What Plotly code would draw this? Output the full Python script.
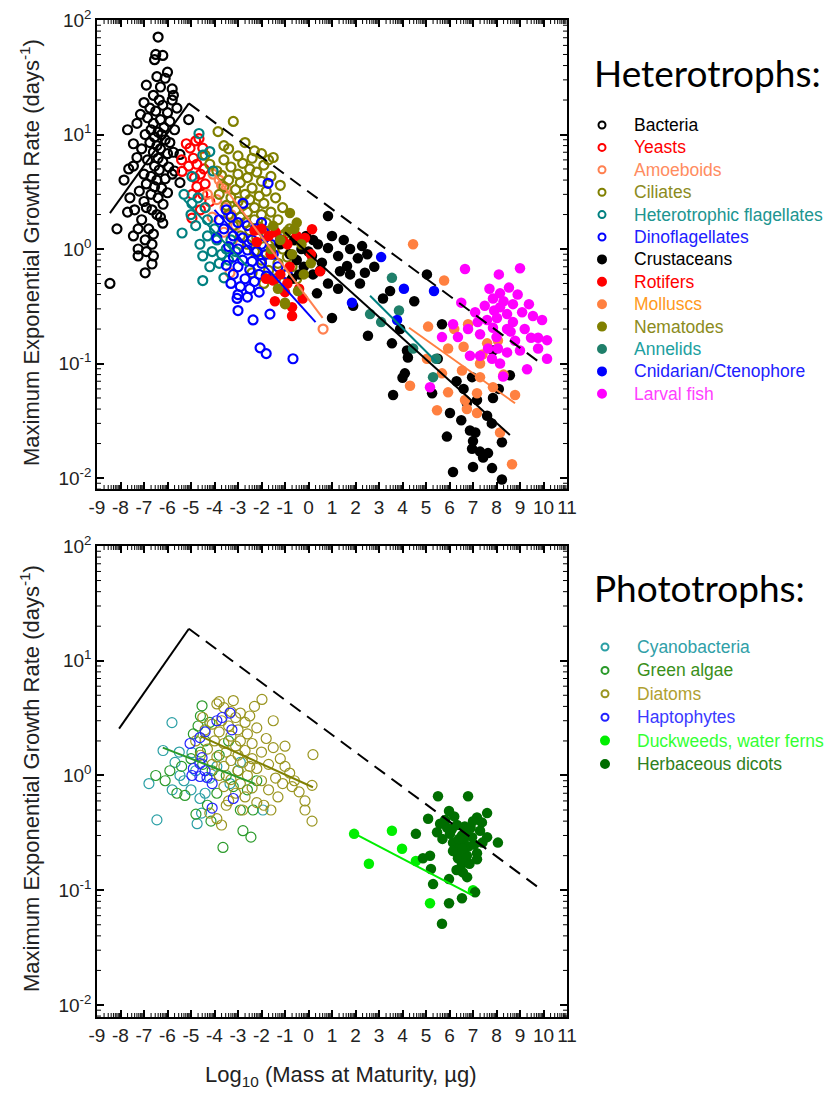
import numpy as np
import plotly.graph_objects as go

W, H = 833, 1093

# ---------------- DATA ----------------
# Heterotrophs
bacteria_x = [-6.4,-6.5,-6.2,-6.55,-6.0,-6.45,-6.9,-6.1,-5.8,-6.3,-5.75,-6.6,-6.35,-5.8,-7.0,-6.2,-6.75,-5.6,-6.5,-6.0,-7.15,-6.85,-5.1,-6.3,-5.9,-7.3,-6.6,-7.7,-6.15,-6.7,-5.7,-6.4,-6.95,-6.25,-6.55,-7.45,-6.1,-5.9,-6.75,-6.45,-7.1,-6.3,-5.75,-6.6,-6.0,-5.47,-7.3,-6.4,-6.85,-6.2,-7.45,-7.65,-6.55,-5.95,-6.35,-5.7,-5.8,-7.0,-6.7,-6.45,-6.1,-7.85,-5.47,-6.9,-6.55,-6.25,-7.2,-6.0,-6.7,-6.4,-7.6,-6.19,-7.0,-6.66,-6.9,-7.4,-7.7,-6.45,-6.3,-7.1,-6.2,-8.15,-7.25,-6.8,-6.6,-7.45,-6.95,-6.66,-7.25,-6.9,-7.25,-6.6,-6.66,-6.95,-8.45]
bacteria_y = [71,50,49,45,35,32,27,31,25,26,22,22,20,20,19,18,17,17,16,15.5,15,14,13.5,13.5,13,12.5,12.5,11,11.5,11,11,10.5,10,10,9.5,8.3,9,8.5,8.5,8,7.5,7.5,7,7,6.8,6.7,6.3,6.2,6,5.8,5.3,5.0,5.3,5.2,4.9,4.8,4.5,4.5,4.3,4.0,4.1,4.0,3.8,3.7,3.5,3.4,3.2,3.1,3.0,2.8,2.8,2.46,2.6,2.2,2.3,2.2,2.1,2.0,1.9,1.8,1.68,1.5,1.5,1.5,1.35,1.3,1.2,1.1,1.0,0.95,0.87,0.87,0.74,0.62,0.5]

yeasts_x = [-4.66,-5.04,-4.5,-4.9,-5.4,-4.75,-5.38,-4.6,-4.4,-4.75,-4.95,-4.5,-4.2,-4.96,-4.6,-5.2,-4.8,-4.45,-4.85,-5.1]
yeasts_y = [9.2,7.6,7.6,6.2,6.0,5.5,4.76,4.5,3.7,3.5,3.0,3.0,2.6,1.86,2.2,8.3,8.8,5.0,4.2,5.3]

amoeboids_x = [-4.06,-3.8,-3.5,-3.7,-4.3,-3.9,-3.55,-4.1,-3.34,-3.6,-3.1,0.62,-2.9,-4.4,-3.3]
amoeboids_y = [4.5,4.0,3.4,3.6,3.0,2.7,2.3,1.9,0.62,1.4,1.6,0.2,1.1,2.3,2.0]

ciliates_x = [-3.2,-3.85,-2.7,-3.4,-2.0,-1.5,-3.0,-2.4,-3.6,-2.8,-1.9,-3.3,-2.5,-4.2,-2.2,-3.0,-3.7,-1.6,-2.6,-3.4,-2.0,-2.9,-1.2,-3.6,-2.4,-3.1,-1.8,-2.7,-3.8,-2.1,-3.3,-1.4,-2.5,-3.0,-1.9,-2.8,-3.5,-2.3,-1.1,-3.1,-2.6,-1.6,-2.0,-3.4,-2.9,-2.3,-1.3,-1.8,-2.7,-3.2,-2.1,-1.5,-0.8,-2.5,-1.0,-1.8,-2.9,-2.2,-1.4,-0.6,-2.6,-1.9,-1.1,-2.3,-1.6,-0.9,-2.0,-1.3,-0.7,-1.7,-1.0,-2.4,-1.4,-0.5,-1.9,-3.9,-4.4,-3.6,-2.3,-1.7]
ciliates_y = [13,10.6,8.5,7.5,6.8,6.3,6.5,6.2,6.0,5.6,5.4,5.2,5.0,5.5,4.7,4.5,4.4,4.3,4.2,4.0,3.9,3.8,3.6,3.5,3.4,3.3,3.2,3.0,3.0,2.9,2.8,2.8,2.7,2.6,2.5,2.4,2.4,2.3,2.3,2.2,2.1,2.1,2.0,2.0,1.9,1.8,1.8,1.7,1.7,1.6,1.55,1.5,1.5,1.45,1.35,1.3,1.3,1.25,1.2,1.2,1.1,1.05,1.0,0.95,0.9,0.85,0.8,0.75,0.7,0.65,0.6,0.62,0.55,0.55,0.5,4.8,6.6,8.0,7.2,6.0]

hflag_x = [-4.66,-4.2,-4.5,-4.96,-4.06,-5.38,-4.96,-4.5,-4.5,-3.6,-4.62,-4.3,-3.9,-4.1,-3.7,-4.8,-4.3,-3.5,-3.3,-4.0,-3.8,-5.0,-4.4,-3.4,-4.2,-3.1,-5.3,-4.7]
hflag_y = [10.2,7.1,6.6,4.3,4.8,1.38,2.5,0.87,0.53,0.56,1.1,1.3,1.2,0.95,0.9,1.6,1.8,1.0,1.2,1.5,0.75,2.0,2.3,0.8,0.7,0.95,3.0,2.8]

dino_x = [-1.72,-2.79,-3.5,-3.3,-3.0,-2.6,-2.2,-1.9,-3.6,-3.2,-2.8,-2.4,-2.0,-1.6,-3.4,-3.0,-2.6,-2.2,-1.8,-3.2,-2.8,-2.4,-2.0,-3.5,-3.0,-2.5,-2.1,-1.8,-3.2,-2.7,-2.3,-3.3,-2.9,-2.5,-2.1,-3.0,-2.6,-3.04,-3.0,-2.36,-1.64,-2.06,-1.8,-0.66,-1.5,-1.3,-1.2,-3.8,-3.9,-2.0,-0.9]
dino_y = [3.75,2.5,2.2,1.9,1.7,1.6,1.5,1.4,1.5,1.3,1.25,1.2,1.1,1.1,1.05,1.0,0.98,0.95,0.9,0.85,0.8,0.78,0.75,0.72,0.7,0.66,0.6,0.58,0.6,0.55,0.52,0.5,0.47,0.45,0.42,0.4,0.38,0.37,0.29,0.24,0.27,0.137,0.122,0.11,0.9,0.7,1.2,1.8,1.25,1.7,0.6]

crust_x = [0.83,2.28,1.77,2.1,0.83,1.26,1.64,1.34,1.77,2.19,0.83,0.36,1.26,0.19,0.57,0.15,1.0,1.9,3.17,3.47,2.53,3.55,4.19,4.23,4.1,4.0,3.6,5.04,5.68,5.26,6.02,6.96,6.74,7.17,7.6,6.87,7.1,7.0,5.89,6.96,7.3,7.64,7.43,6.15,7.0,7.81,8.23,8.23,8.57,7.85,7.85,-0.6,-0.3,-0.1,-0.5,-0.2,0.4,0.0,-0.8,0.5,-0.4,0.2,1.0,1.5,2.5,2.8,-1.2,-0.7,2.4,4.5,3.9,5.5,6.3,6.6,7.8,8.1,6.5]
crust_y = [1.94,1.06,1.0,0.83,1.02,0.87,0.71,0.64,0.6,0.5,0.5,0.41,0.45,0.6,0.76,0.87,0.25,0.32,0.37,0.43,0.175,0.15,0.13,0.113,0.082,0.075,0.053,0.6,0.22,0.055,0.037,0.076,0.045,0.048,0.035,0.026,0.025,0.021,0.023,0.018,0.017,0.0165,0.0151,0.0113,0.0125,0.0122,0.0097,0.0205,0.079,0.05,0.13,1.2,1.0,1.3,0.8,0.7,1.1,0.95,0.9,0.65,0.6,1.2,1.3,1.2,0.9,0.7,1.1,0.55,0.62,0.35,0.2,0.11,0.07,0.06,0.03,0.06,0.032]

rotifers_x = [0.15,-0.15,-0.7,-0.7,0.49,-1.5,-1.43,-2.3,-2.0,-1.7,-1.4,-1.1,-0.9,-0.5,-1.6,-1.2,-0.9,-0.4,-1.8,-1.0,0.1,-2.2,-0.25,-0.8]
rotifers_y = [1.49,1.25,0.31,0.26,0.64,0.53,0.35,1.45,1.5,1.3,1.4,1.2,1.1,1.3,0.9,0.6,0.5,0.45,0.55,0.42,0.9,1.15,0.37,0.7]

molluscs_x = [4.45,5.77,5.09,6.79,5.94,5.04,5.68,6.53,7.3,7.3,4.32,5.94,6.66,6.74,7.17,7.17,7.85,5.47,8.15,8.79,8.66,8.06,7.6,6.6,7.4,6.2,8.3]
molluscs_y = [1.1,0.53,0.21,0.22,0.135,0.11,0.082,0.087,0.1,0.076,0.064,0.056,0.048,0.04,0.055,0.037,0.062,0.039,0.025,0.053,0.0132,0.159,0.15,0.14,0.12,0.2,0.08]

nematodes_x = [-0.79,-0.91,-0.6,-1.0,-0.45,-1.0,-1.5,-1.2,-0.3,-0.7,-1.6,-0.2,-1.3,-0.5,0.1]
nematodes_y = [2.06,1.43,1.5,0.33,0.43,0.34,1.6,1.2,1.1,0.9,1.0,0.6,0.45,1.7,0.75]

annelids_x = [3.55,2.62,3.09,3.85,4.45,5.43,5.3]
annelids_y = [0.56,0.27,0.23,0.29,0.135,0.11,0.076]

cnid_x = [3.09,4.06,5.34,1.85,3.77]
cnid_y = [0.85,0.45,0.43,0.34,0.24]

larval_x = [6.66,8.1,9.0,8.53,8.15,7.85,7.5,8.7,9.38,9.09,9.55,9.94,7.09,6.15,5.68,6.36,6.79,7.3,7.85,8.45,8.79,9.47,9.77,10.15,9.0,9.77,10.15,9.3,8.28,8.15,7.81,7.3,6.87,7.64,8.06,8.45,5.17,8.02,7.6,8.45,8.7,8.15,8.6,7.9,8.3,7.2,6.5,8.9,7.7,8.0,9.2]
larval_y = [0.67,0.6,0.68,0.46,0.41,0.37,0.32,0.33,0.33,0.28,0.26,0.24,0.28,0.22,0.17,0.17,0.2,0.18,0.205,0.2,0.158,0.168,0.168,0.16,0.13,0.135,0.11,0.089,0.077,0.1,0.11,0.117,0.117,0.135,0.135,0.125,0.062,0.25,0.24,0.27,0.23,0.31,0.19,0.29,0.35,0.23,0.34,0.4,0.45,0.17,0.2]

# Phototrophs
cyano_x = [-5.81,-6.19,-6.79,-6.45,-4.74,-4.62,-5.47,-3.34,-1.94,-4.55,-5.68,-4.96,-5.3,-5.0,-5.8,-4.2,-3.9,-5.5,-4.4,-2.9,-4.8]
cyano_y = [2.89,1.65,0.85,0.41,0.38,0.63,1.0,0.85,0.5,0.47,1.3,1.58,0.9,0.75,0.75,0.95,1.2,1.6,0.7,1.3,1.1]

green_x = [-6.1,-5.6,-5.26,-4.79,-4.15,-3.64,-2.79,-2.45,-2.36,-2.9,-4.53,-4.6,-4.7,-4.2,-4.9,-4.4,-4.6,-5.0,-4.5,-3.8,-4.1,-3.5,-5.4,-3.2,-3.0,-2.6,-3.9,-6.5,-5.9,-4.3,-2.2,-3.4]
green_y = [0.9,0.7,0.67,0.46,0.4,0.236,0.33,0.29,0.5,0.5,4.05,3.3,2.7,2.9,2.3,2.0,1.6,1.4,1.25,1.5,1.1,1.0,1.2,0.8,1.1,0.75,0.7,1.0,1.1,0.55,0.9,2.0]

diatom_x = [-1.98,-3.9,-3.6,-3.3,-2.9,-3.1,-2.5,-3.7,-4.1,-2.7,-3.4,-2.2,-3.0,-4.4,-3.8,-2.6,-3.3,-1.8,-2.9,-4.0,-3.6,-2.4,-3.1,-1.5,-4.3,-2.7,-3.5,-2.0,-3.0,-3.9,-2.4,-1.2,-3.3,-2.8,-4.1,-1.7,-3.6,-2.2,-3.0,-0.8,-2.6,-3.8,-1.4,-3.3,-2.0,-2.9,-1.1,-3.6,-2.4,-1.7,-3.1,-0.4,-2.7,-1.3,-3.4,-2.2,-1.9,-2.8,-1.6,-3.7,-3.9,-4.2,-3.5,0.19,-0.15,-0.15,0.15,0.15,-0.6,-1.0,-4.6,-4.5,-3.2,-1.5,-2.3,-4.8,-1.0,-2.5,-0.7,-3.8]
diatom_y = [4.6,4.2,3.9,3.6,3.5,3.2,3.3,3.0,2.8,2.9,2.7,2.6,2.5,2.5,2.4,2.3,2.2,2.1,2.0,2.0,1.9,1.9,1.8,1.75,1.7,1.65,1.6,1.6,1.5,1.45,1.4,1.4,1.35,1.3,1.25,1.25,1.2,1.15,1.1,1.05,1.0,1.0,0.95,0.92,0.9,0.85,0.85,0.8,0.78,0.75,0.7,0.72,0.65,0.65,0.6,0.58,0.55,0.5,0.5,0.37,0.42,0.47,0.55,1.52,0.6,0.5,0.4,0.82,0.9,1.2,1.5,3.2,4.5,3.0,4.0,2.0,1.8,1.2,0.8,4.4]

hapto_x = [-3.34,-3.68,-3.26,-4.4,-4.62,-5.04,-4.53,-4.62,-4.9,-4.96,-4.62,-4.32,-4.1,-3.2,-4.1,-4.4,-3.9]
hapto_y = [3.5,3.2,2.5,2.4,2.14,1.9,1.43,1.27,1.15,1.0,0.98,0.96,0.85,0.63,0.52,1.1,3.0]

duck_x = [1.94,3.55,2.57,3.98,4.57,5.17,7.0]
duck_y = [0.31,0.33,0.17,0.23,0.18,0.077,0.1]

herb_x = [5.51,6.79,5.98,5.09,4.57,7.6,8.06,7.17,5.17,4.87,5.21,5.3,5.98,7.09,6.53,5.98,5.68,6.57,5.6,5.47,5.9,6.32,6.53,6.15,6.6,6.96,7.3,7.38,7.17,6.32,6.36,6.74,6.53,7.17,7.6,6.02,5.81,6.15,6.45,6.8,6.9,7.0,6.2,6.7,6.4,6.85,7.4,5.7,6.1,6.55,7.05,6.65,6.3,6.75]
herb_y = [0.66,0.66,0.49,0.42,0.31,0.47,0.26,0.186,0.2,0.19,0.153,0.113,0.125,0.096,0.085,0.077,0.051,0.143,0.38,0.32,0.35,0.37,0.3,0.26,0.27,0.29,0.33,0.39,0.43,0.21,0.19,0.2,0.17,0.21,0.29,0.31,0.41,0.22,0.24,0.24,0.35,0.4,0.44,0.31,0.28,0.17,0.26,0.28,0.34,0.23,0.25,0.36,0.15,0.13]

# Lines (end points)
env_solid_top_x, env_solid_top_y = [-8.45, -5.09], [2.06, 18.7]
env_dash_top_x, env_dash_top_y = [-5.09, 9.9], [18.7, 0.1]
hflag_fit_x, hflag_fit_y = [-5.3, -2.6], [2.7, 0.7]
dino_fit_x, dino_fit_y = [-4.0, 0.3], [2.2, 0.23]
amoeb_fit_x, amoeb_fit_y = [-4.0, 0.6], [4.5, 0.25]
crust_fit_x, crust_fit_y = [-1.0, 8.57], [1.4, 0.0237]
annel_fit_x, annel_fit_y = [2.62, 5.47], [0.39, 0.102]
moll_fit_x, moll_fit_y = [4.28, 8.79], [0.205, 0.045]

env_solid_bot_x, env_solid_bot_y = [-8.06, -5.09], [2.56, 19.0]
env_dash_bot_x, env_dash_bot_y = [-5.09, 9.94], [19.0, 0.1]
green_fit_x, green_fit_y = [-6.2, -2.3], [1.75, 0.85]
diatom_fit_x, diatom_fit_y = [-4.6, 0.19], [2.2, 0.79]
duck_fit_x, duck_fit_y = [1.94, 6.96], [0.313, 0.0906]

x_ticks = list(range(-9, 12))
y_ticks = [0.01, 0.1, 1, 10, 100]
y_ticktext = ["10<sup>-2</sup>", "10<sup>-1</sup>", "10<sup>0</sup>", "10<sup>1</sup>", "10<sup>2</sup>"]

# ---------------- FIGURE ----------------
fig = go.Figure()
FONT = "Arial, Liberation Sans, sans-serif"

top_series = [
    ("Bacteria", bacteria_x, bacteria_y, "#000000", "#000000", True),
    ("Yeasts", yeasts_x, yeasts_y, "#FF0000", "#FF0000", True),
    ("Amoeboids", amoeboids_x, amoeboids_y, "#FF8050", "#FF8C60", True),
    ("Ciliates", ciliates_x, ciliates_y, "#808000", "#8B8B20", True),
    ("Heterotrophic flagellates", hflag_x, hflag_y, "#008080", "#209590", True),
    ("Dinoflagellates", dino_x, dino_y, "#0000FF", "#2020FF", True),
    ("Crustaceans", crust_x, crust_y, "#000000", "#000000", False),
    ("Rotifers", rotifers_x, rotifers_y, "#FF0000", "#FF0000", False),
    ("Molluscs", molluscs_x, molluscs_y, "#FF8040", "#FF9A20", False),
    ("Nematodes", nematodes_x, nematodes_y, "#808000", "#8B8B20", False),
    ("Annelids", annelids_x, annelids_y, "#1F7F6A", "#20A0A0", False),
    ("Cnidarian/Ctenophore", cnid_x, cnid_y, "#0000FF", "#2020FF", False),
    ("Larval fish", larval_x, larval_y, "#FF00FF", "#FF40FF", False),
]
bot_series = [
    ("Cyanobacteria", cyano_x, cyano_y, "#2A9FA5", "#30A0A8", True),
    ("Green algae", green_x, green_y, "#2A9A2A", "#3A8F1A", True),
    ("Diatoms", diatom_x, diatom_y, "#9A9520", "#B0A030", True),
    ("Haptophytes", hapto_x, hapto_y, "#2222FF", "#3A3AFF", True),
    ("Duckweeds, water ferns", duck_x, duck_y, "#00EE00", "#33FF33", False),
    ("Herbaceous dicots", herb_x, herb_y, "#006E00", "#2E8020", False),
]

def add_series(series, xa, ya, lw, hs, fs):
    for name, xs, ys, col, _, hollow in series:
        if hollow:
            mk = dict(symbol="circle-open", size=hs, color=col, line=dict(width=lw, color=col))
        else:
            mk = dict(symbol="circle", size=fs, color=col, line=dict(width=0))
        fig.add_trace(go.Scatter(x=xs, y=ys, mode="markers", marker=mk, name=name,
                                 xaxis=xa, yaxis=ya, showlegend=False))

def add_line(xs, ys, col, xa, ya, dash="solid", w=2):
    fig.add_trace(go.Scatter(x=xs, y=ys, mode="lines", line=dict(color=col, width=w, dash=dash),
                             xaxis=xa, yaxis=ya, showlegend=False, hoverinfo="skip"))

DASH = "13px,8px"
add_series(top_series, "x", "y", 2.2, 9, 10.5)
add_line(env_solid_top_x, env_solid_top_y, "black", "x", "y")
add_line(env_dash_top_x, env_dash_top_y, "black", "x", "y", dash=DASH)
add_line(hflag_fit_x, hflag_fit_y, "#008080", "x", "y")
add_line(dino_fit_x, dino_fit_y, "#0000FF", "x", "y")
add_line(amoeb_fit_x, amoeb_fit_y, "#FF8050", "x", "y")
add_line(crust_fit_x, crust_fit_y, "black", "x", "y")
add_line(annel_fit_x, annel_fit_y, "#008080", "x", "y")
add_line(moll_fit_x, moll_fit_y, "#FF8040", "x", "y")

add_series(bot_series, "x2", "y2", 1.2, 10, 10.5)
add_line(env_solid_bot_x, env_solid_bot_y, "black", "x2", "y2")
add_line(env_dash_bot_x, env_dash_bot_y, "black", "x2", "y2", dash=DASH)
add_line(green_fit_x, green_fit_y, "#2A9A2A", "x2", "y2")
add_line(diatom_fit_x, diatom_fit_y, "#808000", "x2", "y2")
add_line(duck_fit_x, duck_fit_y, "#00EE00", "x2", "y2")

# geometry (pixels)
PX0, PX1 = 97, 567
TOP_T, TOP_B = 20, 489
BOT_T, BOT_B = 546, 1017
LEG_X0 = 580
xdom = [PX0 / W, PX1 / W]
def ydom(t, b):
    return [1 - b / H, 1 - t / H]

def xaxis_cfg(anchor):
    return dict(domain=xdom, range=[-9, 11], anchor=anchor, showline=True, linecolor="black", linewidth=1.5,
                mirror="ticks", ticks="inside", ticklen=7, tickwidth=1.5, tickcolor="black",
                tickmode="array", tickvals=x_ticks, ticktext=[str(v) for v in x_ticks],
                showgrid=False, zeroline=False,
                tickfont=dict(family=FONT, size=19, color="#222"))

def yaxis_cfg(anchor, dom, rng):
    return dict(domain=dom, type="log", range=rng, anchor=anchor, showline=True, linecolor="black", linewidth=1.5,
                mirror="ticks", ticks="inside", ticklen=7, tickwidth=1.5, tickcolor="black",
                tickmode="array", tickvals=y_ticks, ticktext=y_ticktext, showgrid=False, zeroline=False,
                tickfont=dict(family=FONT, size=19, color="#222"))

fig.update_layout(
    width=W, height=H, margin=dict(l=0, r=0, t=0, b=0, autoexpand=False),
    plot_bgcolor="rgba(0,0,0,0)", paper_bgcolor="white", showlegend=False,
    xaxis=xaxis_cfg("y"),
    yaxis=yaxis_cfg("x", ydom(TOP_T, TOP_B), [-2.096, 2.0]),
    xaxis2=xaxis_cfg("y2"),
    yaxis2=yaxis_cfg("x2", ydom(BOT_T, BOT_B), [-2.105, 2.0]),
    xaxis3=dict(domain=[LEG_X0 / W, 1], range=[LEG_X0, W], anchor="y3", visible=False, fixedrange=True,
                showticklabels=False, showgrid=False, zeroline=False, ticks=""),
    yaxis3=dict(domain=[0, 1], range=[H, 0], anchor="x3", visible=False, fixedrange=True,
                showticklabels=False, showgrid=False, zeroline=False, ticks=""),
)

# minor ticks drawn as short shapes (log-style subdivisions)
shapes = []
x_minor = [n + np.log10(k) for n in range(-9, 11) for k in range(2, 10)]
y_minor = [k * 10.0 ** n for n in range(-3, 2) for k in range(2, 10)]
for xa, ya, (t, b) in [("x", "y", (TOP_T, TOP_B)), ("x2", "y2", (BOT_T, BOT_B))]:
    hpx = b - t
    for v in x_minor:
        for y0, y1 in [(0, 4 / hpx), (1, 1 - 4 / hpx)]:
            shapes.append(dict(type="line", xref=xa, yref=ya + " domain", x0=float(v), x1=float(v), y0=y0, y1=y1,
                               line=dict(color="black", width=1), layer="above"))
    for v in y_minor:
        if np.log10(v) < -2.1 or v > 100:
            continue
        for x0, x1 in [(0, 4 / (PX1 - PX0)), (1, 1 - 4 / (PX1 - PX0))]:
            shapes.append(dict(type="line", xref=xa + " domain", yref=ya, x0=x0, x1=x1, y0=float(v), y1=float(v),
                               line=dict(color="black", width=1), layer="above"))

ann = []
ytitle = "Maximum Exponential Growth Rate (days<sup>-1</sup>)"
for cy in [253, 779]:
    ann.append(dict(text=ytitle, x=30 / W, y=1 - cy / H, xref="paper", yref="paper", showarrow=False,
                    textangle=-90, font=dict(family=FONT, size=22, color="#222"), xanchor="center", yanchor="middle"))
ann.append(dict(text="Log<sub>10</sub> (Mass at Maturity, \u00b5g)", x=340 / W, y=1 - 1076 / H, xref="paper", yref="paper",
                showarrow=False, font=dict(family=FONT, size=22, color="#222"), xanchor="center", yanchor="middle"))

TITLE_FONT = "Lato, Open Sans, sans-serif"
ann.append(dict(text="Heterotrophs:", x=592 / W, y=1 - 72 / H, xref="paper", yref="paper", showarrow=False,
                font=dict(family=TITLE_FONT, size=37, color="black"), xanchor="left", yanchor="middle"))
ann.append(dict(text="Phototrophs:", x=592 / W, y=1 - 587 / H, xref="paper", yref="paper", showarrow=False,
                font=dict(family=TITLE_FONT, size=37, color="black"), xanchor="left", yanchor="middle"))

def legend_block(series, y0, dy, mx, tx):
    for i, (name, _, _, col, tcol, hollow) in enumerate(series):
        yy = y0 + i * dy
        ann.append(dict(text=name, x=tx / W, y=1 - yy / H, xref="paper", yref="paper", showarrow=False,
                        font=dict(family=FONT, size=17.5, color=tcol), xanchor="left", yanchor="middle"))
        fig.add_trace(go.Scatter(x=[mx], y=[yy], mode="markers", xaxis="x3", yaxis="y3", showlegend=False,
                                 hoverinfo="skip",
                                 marker=dict(symbol="circle-open" if hollow else "circle", size=7 if hollow else 8,
                                             color=col, line=dict(width=2, color=col))))

legend_block(top_series, 125, 22.4, 602, 632)
legend_block(bot_series, 647, 23.4, 605, 635)

fig.update_layout(annotations=ann, shapes=shapes)
fig.write_html("out.html", config={"displayModeBar": False},
               post_script="document.body.style.margin='0';")
